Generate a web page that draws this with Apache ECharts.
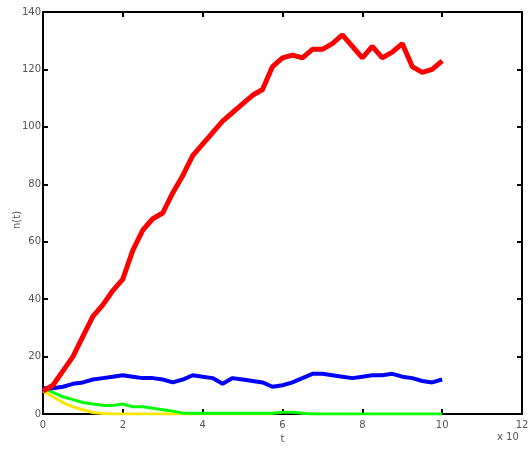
<!DOCTYPE html>
<html>
<head>
<meta charset="UTF-8">
<script type="text/javascript" src="https://cdn.jsdelivr.net/npm/echarts@6/dist/echarts.min.js"></script>
<title>n(t)</title>
<style>
	body { margin: 0; background: #fff; }
	#main { width: 529px; height: 449px; }
</style>
</head>
<body>
<div id="main"></div>
<script>
	// time points (x 10^..)
	var tValues = [0, 0.25, 0.5, 0.75, 1, 1.25, 1.5, 1.75, 2, 2.25, 2.5, 2.75, 3, 3.25, 3.5, 3.75, 4, 4.25, 4.5, 4.75,
		5, 5.25, 5.5, 5.75, 6, 6.25, 6.5, 6.75, 7, 7.25, 7.5, 7.75, 8, 8.25, 8.5, 8.75, 9, 9.25, 9.5, 9.75, 10];

	var redValues = [8, 10, 15, 20, 27, 34, 38, 43, 47, 57, 64, 68, 70, 77, 83, 90, 94, 98, 102, 105,
		108, 111, 113, 121, 124, 125, 124, 127, 127, 129, 132, 128, 124, 128, 124, 126, 129, 121, 119, 120, 123];

	var blueValues = [9, 9, 9.5, 10.5, 11, 12, 12.5, 13, 13.5, 13, 12.5, 12.5, 12, 11, 12, 13.5, 13, 12.5, 10.5, 12.5,
		12, 11.5, 11, 9.5, 10, 11, 12.5, 14, 14, 13.5, 13, 12.5, 13, 13.5, 13.5, 14, 13, 12.5, 11.5, 11, 12];

	var greenValues = [9, 7.5, 6, 5, 4, 3.5, 3, 3, 3.5, 2.5, 2.5, 2, 1.5, 1, 0.3, 0.3, 0.3, 0.3, 0.3, 0.3,
		0.3, 0.3, 0.3, 0.3, 0.6, 0.6, 0.3, 0, 0, 0, 0, 0, 0, 0, 0, 0, 0, 0, 0, 0, 0];

	var yellowValues = [8, 6, 4, 2.5, 1.5, 0.5, 0.2, 0, 0, 0, 0, 0, 0, 0, 0, 0, 0, 0, 0, 0, 0, 0, 0, 0];

	function pairs(vals) {
		var out = [];
		for (var i = 0; i < vals.length; i++) {
			out.push([tValues[i], vals[i]]);
		}
		return out;
	}

	var myChart = echarts.init(document.getElementById('main'));

	var labelStyle = { color: '#555', fontSize: 10, fontFamily: 'DejaVu Sans' };
	var frameLine = { show: true, onZero: false, lineStyle: { color: '#000', width: 2 } };
	var frameTick = { show: true, inside: true, length: 5, lineStyle: { color: '#000', width: 2 } };

	myChart.setOption({
		animation: false,
		grid: { left: 43, right: 7, top: 12, bottom: 35, containLabel: false, outerBoundsMode: 'none' },
		xAxis: [
			{
				type: 'value', position: 'bottom', min: 0, max: 12, interval: 2,
				axisLine: frameLine,
				axisTick: frameTick,
				axisLabel: Object.assign({ margin: 6 }, labelStyle),
				splitLine: { show: false },
				name: 't', nameLocation: 'middle', nameGap: 18,
				nameTextStyle: labelStyle
			},
			{
				type: 'value', position: 'top', min: 0, max: 12, interval: 2,
				axisLine: frameLine,
				axisTick: frameTick,
				axisLabel: { show: false },
				splitLine: { show: false }
			}
		],
		yAxis: [
			{
				type: 'value', position: 'left', min: 0, max: 140, interval: 20,
				axisLine: frameLine,
				axisTick: frameTick,
				axisLabel: Object.assign({ margin: 2 }, labelStyle),
				splitLine: { show: false }
			},
			{
				type: 'value', position: 'right', min: 0, max: 140, interval: 20,
				axisLine: frameLine,
				axisTick: frameTick,
				axisLabel: { show: false },
				splitLine: { show: false }
			}
		],
		graphic: [
			{
				type: 'text', x: 17, y: 220, rotation: Math.PI / 2,
				style: { text: 'n(t)', fill: '#555', font: '10px DejaVu Sans', align: 'center', verticalAlign: 'middle' }
			},
			{ type: 'text', left: 497, top: 432, style: { text: 'x 10', fill: '#555', font: '10px DejaVu Sans' } }
		],
		series: [
			{ type: 'line', data: pairs(yellowValues), showSymbol: false, lineStyle: { color: '#f8e800', width: 3 }, z: 2 },
			{ type: 'line', data: pairs(greenValues), showSymbol: false, lineStyle: { color: '#00ff00', width: 3 }, z: 3 },
			{ type: 'line', data: pairs(blueValues), showSymbol: false, lineStyle: { color: '#0000ff', width: 4 }, z: 4 },
			{ type: 'line', data: pairs(redValues), showSymbol: false, lineStyle: { color: '#ff0000', width: 5 }, z: 5 }
		]
	});
</script>
</body>
</html>
